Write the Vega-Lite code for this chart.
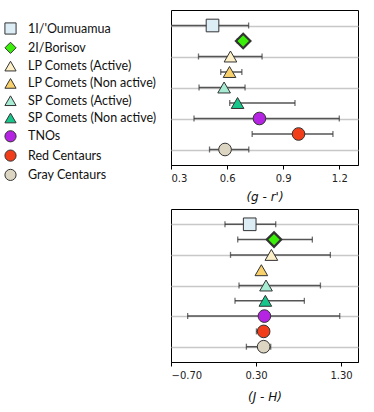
{
  "$schema": "https://vega.github.io/schema/vega-lite/v6.json",
  "padding": {"left": 4, "top": 9, "right": 10, "bottom": 5},
  "background": "white",
  "config": {
    "view": {"stroke": "#000", "strokeWidth": 1},
    "font": "DejaVu Sans",
    "axisX": {"labelFont": "DejaVu Sans", "labelFontSize": 10, "labelColor": "#222", "tickColor": "#000", "tickSize": 4, "domainColor": "#000", "titleFont": "DejaVu Sans", "titleFontSize": 12, "titleFontWeight": "normal", "titleFontStyle": "italic", "titleColor": "#111", "grid": false, "labelPadding": 4, "titlePadding": 8},
    "legend": {"labelFont": "Lato", "labelFontSize": 12.5, "labelColor": "#111", "symbolStrokeColor": "#333", "symbolStrokeWidth": 1, "symbolSize": 125, "rowPadding": 2.3, "labelOffset": 11}
  },
  "datasets": {
    "d": [
      {"name": "1I/'Oumuamua", "gr": 0.522, "gr_lo": 0.25, "gr_hi": 0.715, "jh": 0.226, "jh_lo": -0.065, "jh_hi": 0.532},
      {"name": "2I/Borisov", "gr": 0.686, "gr_lo": 0.655, "gr_hi": 0.712, "jh": 0.512, "jh_lo": 0.085, "jh_hi": 0.963},
      {"name": "LP Comets (Active)", "gr": 0.618, "gr_lo": 0.447, "gr_hi": 0.787, "jh": 0.481, "jh_lo": 0.0, "jh_hi": 1.175},
      {"name": "LP Comets (Non active)", "gr": 0.613, "gr_lo": 0.566, "gr_hi": 0.679, "jh": 0.363, "jh_lo": null, "jh_hi": null},
      {"name": "SP Comets (Active)", "gr": 0.584, "gr_lo": 0.45, "gr_hi": 0.696, "jh": 0.418, "jh_lo": 0.1, "jh_hi": 1.058},
      {"name": "SP Comets (Non active)", "gr": 0.656, "gr_lo": 0.614, "gr_hi": 0.963, "jh": 0.41, "jh_lo": 0.053, "jh_hi": 0.869},
      {"name": "TNOs", "gr": 0.773, "gr_lo": 0.423, "gr_hi": 1.2, "jh": 0.399, "jh_lo": -0.504, "jh_hi": 1.285},
      {"name": "Red Centaurs", "gr": 0.982, "gr_lo": 0.734, "gr_hi": 1.166, "jh": 0.39, "jh_lo": 0.305, "jh_hi": 0.45},
      {"name": "Gray Centaurs", "gr": 0.589, "gr_lo": 0.506, "gr_hi": 0.716, "jh": 0.39, "jh_lo": 0.187, "jh_hi": 0.473}
    ]
  },
  "resolve": {"scale": {"color": "shared", "shape": "shared"}, "legend": {"color": "shared", "shape": "shared"}},
  "spacing": 5,
  "vconcat": [
    {
      "width": 187,
      "height": 155,
      "data": {"name": "d"},
      "encoding": {
        "y": {"field": "name", "type": "nominal", "sort": null,
          "scale": {"type": "point", "padding": 1.9, "domain": ["1I/'Oumuamua", "2I/Borisov", "LP Comets (Active)", "LP Comets (Non active)", "SP Comets (Active)", "SP Comets (Non active)", "TNOs", "Red Centaurs", "Gray Centaurs"]},
          "axis": {"title": null, "labels": false, "ticks": false, "domain": false, "grid": true, "gridColor": "#c8c8c8", "gridWidth": 1.5,
            "values": ["1I/'Oumuamua", "LP Comets (Active)", "SP Comets (Active)", "TNOs", "Gray Centaurs"]}}
      },
      "layer": [
        {"mark": {"type": "rule", "color": "#555", "strokeWidth": 1.5, "clip": true},
         "encoding": {"x": {"field": "gr_lo", "type": "quantitative", "scale": {"domain": [0.3, 1.3], "nice": false, "zero": false},
             "axis": {"values": [0.3, 0.6, 0.9, 1.2], "format": ".1f", "title": "(g - r')"}},
           "x2": {"field": "gr_hi"}}},
        {"mark": {"type": "tick", "color": "#333", "thickness": 1.3, "size": 6, "orient": "vertical", "clip": true},
         "encoding": {"x": {"field": "gr_lo", "type": "quantitative"}}},
        {"mark": {"type": "tick", "color": "#333", "thickness": 1.3, "size": 6, "orient": "vertical", "clip": true},
         "encoding": {"x": {"field": "gr_hi", "type": "quantitative"}}},
        {"mark": {"type": "point", "filled": true, "opacity": 1, "stroke": "#333"},
         "encoding": {
           "x": {"field": "gr", "type": "quantitative"},
           "color": {"field": "name", "type": "nominal", "sort": null,
             "scale": {"domain": ["1I/'Oumuamua", "2I/Borisov", "LP Comets (Active)", "LP Comets (Non active)", "SP Comets (Active)", "SP Comets (Non active)", "TNOs", "Red Centaurs", "Gray Centaurs"],
               "range": ["#dcedf5", "#3cef0a", "#fdefc6", "#f8d06c", "#a6ebd2", "#16c68b", "#b424e2", "#f23d1a", "#dcd5c2"]},
             "legend": {"orient": "none", "legendX": -167, "legendY": 12, "title": null}},
           "shape": {"field": "name", "type": "nominal", "sort": null,
             "scale": {"domain": ["1I/'Oumuamua", "2I/Borisov", "LP Comets (Active)", "LP Comets (Non active)", "SP Comets (Active)", "SP Comets (Non active)", "TNOs", "Red Centaurs", "Gray Centaurs"],
               "range": ["square", "diamond", "triangle-up", "triangle-up", "triangle-up", "triangle-up", "circle", "circle", "circle"]},
             "legend": {"orient": "none", "legendX": -167, "legendY": 12, "title": null}},
           "size": {"condition": {"test": "datum.name === '2I/Borisov'", "value": 210}, "value": 160},
           "strokeWidth": {"condition": {"test": "datum.name === '2I/Borisov'", "value": 2.2}, "value": 1}
         }}
      ]
    },
    {
      "width": 187,
      "height": 153,
      "data": {"name": "d"},
      "encoding": {
        "y": {"field": "name", "type": "nominal", "sort": null,
          "scale": {"type": "point", "padding": 1.95, "domain": ["1I/'Oumuamua", "2I/Borisov", "LP Comets (Active)", "LP Comets (Non active)", "SP Comets (Active)", "SP Comets (Non active)", "TNOs", "Red Centaurs", "Gray Centaurs"]},
          "axis": {"title": null, "labels": false, "ticks": false, "domain": false, "grid": true, "gridColor": "#c8c8c8", "gridWidth": 1.5,
            "values": ["1I/'Oumuamua", "LP Comets (Active)", "SP Comets (Active)", "TNOs", "Gray Centaurs"]}}
      },
      "layer": [
        {"mark": {"type": "rule", "color": "#555", "strokeWidth": 1.5, "clip": true},
         "encoding": {"x": {"field": "jh_lo", "type": "quantitative", "scale": {"domain": [-0.7, 1.5], "nice": false, "zero": false},
             "axis": {"values": [-0.7, 0.3, 1.3], "format": ".2f", "title": "(J - H)", "titlePadding": 11}},
           "x2": {"field": "jh_hi"}}},
        {"mark": {"type": "tick", "color": "#333", "thickness": 1.3, "size": 6, "orient": "vertical", "clip": true},
         "encoding": {"x": {"field": "jh_lo", "type": "quantitative"}}},
        {"mark": {"type": "tick", "color": "#333", "thickness": 1.3, "size": 6, "orient": "vertical", "clip": true},
         "encoding": {"x": {"field": "jh_hi", "type": "quantitative"}}},
        {"mark": {"type": "point", "filled": true, "opacity": 1, "stroke": "#333"},
         "encoding": {
           "x": {"field": "jh", "type": "quantitative"},
           "color": {"field": "name", "type": "nominal", "sort": null},
           "shape": {"field": "name", "type": "nominal", "sort": null},
           "size": {"condition": {"test": "datum.name === '2I/Borisov'", "value": 210}, "value": 160},
           "strokeWidth": {"condition": {"test": "datum.name === '2I/Borisov'", "value": 2.2}, "value": 1}
         }}
      ]
    }
  ]
}
